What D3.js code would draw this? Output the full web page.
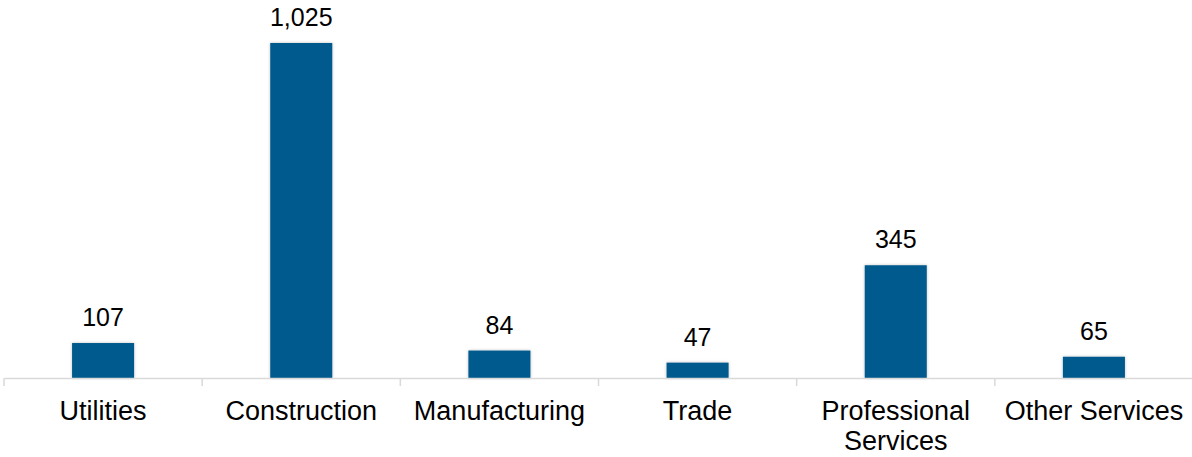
<!DOCTYPE html>
<html><head><meta charset="utf-8">
<script src="https://cdn.jsdelivr.net/npm/d3@7"></script>
<style>body{margin:0;background:#fff;}svg{display:block;}</style>
</head><body>
<svg id="chart" width="1192" height="457"></svg>
<script>
const categories = ["Utilities","Construction","Manufacturing","Trade","Professional Services","Other Services"];
const labelLines = [["Utilities"],["Construction"],["Manufacturing"],["Trade"],["Professional","Services"],["Other Services"]];
const values = [107,1025,84,47,345,65];

const svg = d3.select("#chart");
const x = d3.scaleBand().domain(categories).range([4,1193]).paddingInner(0).paddingOuter(0);
const y = d3.scaleLinear().domain([0,1025]).range([378,43]);
const barW = x.bandwidth()*0.313;

const defs = svg.append("defs");
const f = defs.append("filter").attr("id","sh").attr("x","-20%").attr("y","-20%").attr("width","140%").attr("height","140%");
f.append("feDropShadow").attr("dx",0).attr("dy",0).attr("stdDeviation",1.5).attr("flood-color","#000").attr("flood-opacity",0.25);

svg.selectAll("rect.bar").data(values).join("rect")
  .attr("class","bar")
  .attr("x",(d,i)=>x(categories[i])+x.bandwidth()/2-barW/2)
  .attr("y",d=>y(d))
  .attr("width",barW)
  .attr("height",d=>y(0)-y(d))
  .attr("fill","#045A8D")
  .attr("filter","url(#sh)");

// axis
const ax = svg.append("g").attr("transform","translate(0,378)")
  .call(d3.axisBottom(x).tickSize(0).tickFormat(""));
ax.select(".domain").attr("stroke","#d9d9d9").attr("stroke-width",1.5);
const edges = categories.map(c=>x(c)).concat([x.range()[1]]);
svg.selectAll("line.tk").data(edges).join("line")
  .attr("x1",d=>d).attr("x2",d=>d).attr("y1",378).attr("y2",386)
  .attr("stroke","#d9d9d9").attr("stroke-width",1.5);

// value labels
svg.selectAll("text.val").data(values).join("text")
  .attr("x",(d,i)=>x(categories[i])+x.bandwidth()/2)
  .attr("y",d=>y(d)-17)
  .attr("text-anchor","middle")
  .attr("font-family","Liberation Sans, Arial, sans-serif")
  .attr("font-size",25)
  .attr("fill","#000")
  .text(d=>d3.format(",")(d));

// category labels
labelLines.forEach((lines,i)=>{
  const t = svg.append("text")
    .attr("x",x(categories[i])+x.bandwidth()/2)
    .attr("y",420)
    .attr("text-anchor","middle")
    .attr("font-family","Liberation Sans, Arial, sans-serif")
    .attr("font-size",27)
    .attr("fill","#000");
  lines.forEach((l,j)=>{
    t.append("tspan").attr("x",x(categories[i])+x.bandwidth()/2).attr("dy",j===0?0:30).text(l);
  });
});
</script>
</body></html>
